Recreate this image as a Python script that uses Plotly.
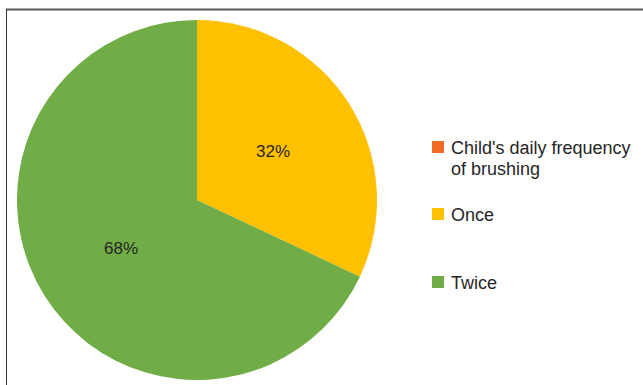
import math
import plotly.graph_objects as go

# Data
categories = ["Child's daily frequency of brushing", "Once", "Twice"]
values = [0, 32, 68]
colors = ["#F26B22", "#FFC000", "#70AD47"]
legend_lines = [["Child's daily frequency", "of brushing"], ["Once"], ["Twice"]]

W, H = 643, 385
FONT = "Liberation Sans, Arial, sans-serif"
TEXT_COLOR = "#262626"

# pie geometry in pixels
CX, CY, R = 197, 200, 180


def px(x):
    return x / W


def py(y):
    return 1 - y / H


fig = go.Figure(
    go.Pie(
        labels=categories,
        values=values,
        marker=dict(colors=colors, line=dict(width=0)),
        sort=False,
        direction="clockwise",
        rotation=0,
        textinfo="none",
        hoverinfo="label+percent",
        showlegend=False,
        domain=dict(x=[px(CX - R), px(CX + R)], y=[py(CY + R), py(CY - R)]),
    )
)

annotations = []
shapes = []

# percentage labels placed halfway along each slice's bisector
total = sum(values)
start = 0.0
for v in values:
    frac = v / total
    if v > 0:
        mid = (start + frac / 2) * 2 * math.pi
        lx = CX + 0.5 * R * math.sin(mid)
        ly = CY - 0.5 * R * math.cos(mid)
        annotations.append(dict(
            x=px(lx), y=py(ly), xref="paper", yref="paper",
            text=f"{round(frac * 100)}%", showarrow=False,
            xanchor="center", yanchor="middle",
            font=dict(family=FONT, size=17, color=TEXT_COLOR),
        ))
    start += frac

# legend: colour squares and labels
square_centers = [147, 214, 282]
for color, lines, cy in zip(colors, legend_lines, square_centers):
    shapes.append(dict(
        type="rect", xref="paper", yref="paper",
        x0=px(432), x1=px(444), y0=py(cy + 6), y1=py(cy - 6),
        fillcolor=color, line=dict(width=0),
    ))
    for i, line in enumerate(lines):
        annotations.append(dict(
            x=px(449), y=py(cy + 1 + i * 21), xref="paper", yref="paper",
            text=line, showarrow=False, xanchor="left", yanchor="middle",
            font=dict(family=FONT, size=18, color=TEXT_COLOR),
        ))

# chart frame
shapes.append(dict(type="line", xref="paper", yref="paper",
                   x0=px(6), x1=1, y0=py(9.5), y1=py(9.5),
                   line=dict(color="#595959", width=2)))
shapes.append(dict(type="line", xref="paper", yref="paper",
                   x0=px(6.5), x1=px(6.5), y0=py(9), y1=0,
                   line=dict(color="#333333", width=1)))

fig.update_layout(
    width=W, height=H,
    margin=dict(l=0, r=0, t=0, b=0),
    paper_bgcolor="white",
    plot_bgcolor="white",
    annotations=annotations,
    shapes=shapes,
    showlegend=False,
)

fig.write_html("out.html")
